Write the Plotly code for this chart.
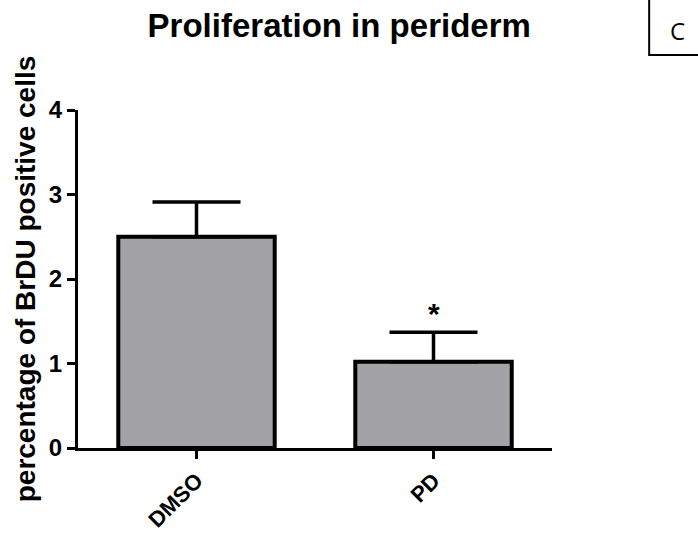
import plotly.graph_objects as go

categories = ["DMSO", "PD"]
means = [2.50, 1.02]
sem = [0.41, 0.35]
significance = ["", "*"]
y_ticks = [0, 1, 2, 3, 4]

FONT = "Liberation Sans, Arial, sans-serif"

fig = go.Figure()
fig.add_trace(go.Bar(
    x=categories, y=means, width=0.66,
    marker=dict(color="#A3A3A7", line=dict(color="black", width=4)),
    error_y=dict(type="data", symmetric=False, array=sem,
                 arrayminus=[0] * len(sem), color="black",
                 thickness=3.5, width=44),
    showlegend=False,
))

for c, m, s, sig in zip(categories, means, sem, significance):
    if sig:
        fig.add_annotation(x=c, y=m + s, text=sig, showarrow=False,
                           yanchor="bottom", yshift=0,
                           font=dict(family=FONT, size=30, color="black",
                                     weight="bold"))

# panel label box
fig.add_shape(type="rect", xref="paper", yref="paper",
              x0=1.205, x1=1.40, y0=1.163, y1=1.45,
              line=dict(color="black", width=2), fillcolor="rgba(0,0,0,0)")
fig.add_annotation(xref="paper", yref="paper", x=1.264, y=1.234,
                   xanchor="center", yanchor="middle",
                   text="C", showarrow=False,
                   font=dict(family="Open Sans, sans-serif", size=24, color="black"))

fig.update_layout(
    width=698, height=537,
    paper_bgcolor="white", plot_bgcolor="white",
    margin=dict(l=78, r=146, t=110, b=89, autoexpand=False),
    title=dict(text="Proliferation in periderm", x=0.486, xanchor="center",
               y=0.953, yanchor="middle",
               font=dict(family=FONT, size=33, color="black", weight="bold")),
)
fig.update_xaxes(range=[-0.5, 1.5], showline=True, linecolor="black", linewidth=3,
                 ticks="outside", ticklen=8, tickwidth=2.5, tickcolor="black",
                 tickangle=-45, showgrid=False, zeroline=False, automargin=False,
                 tickfont=dict(family=FONT, size=22, color="black", weight="bold"))
fig.update_yaxes(range=[0, 4], tickvals=y_ticks, showline=True, linecolor="black",
                 linewidth=3, ticks="outside", ticklen=8, tickwidth=2.5,
                 tickcolor="black", showgrid=False, zeroline=False, automargin=False,
                 tickfont=dict(family=FONT, size=24, color="black", weight="bold"),
                 title=dict(text="percentage of BrDU positive cells", standoff=6,
                            font=dict(family=FONT, size=28, color="black",
                                      weight="bold")))

fig.write_html("out.html", config={"displayModeBar": False},
               post_script="document.body.style.margin='0';")
